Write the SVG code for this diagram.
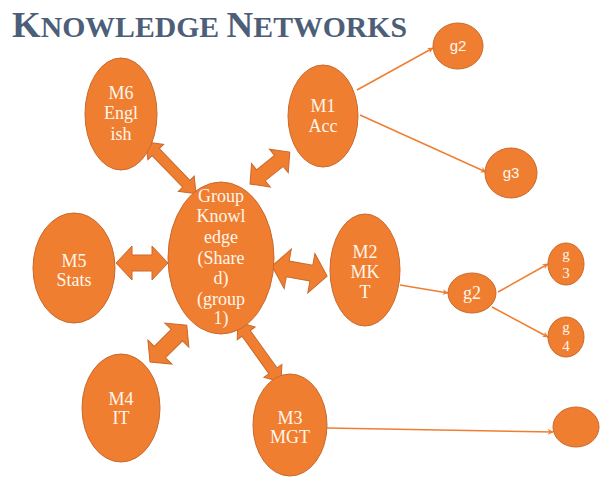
<svg xmlns="http://www.w3.org/2000/svg" width="601" height="477" viewBox="0 0 601 477">
<defs>
<style>
.n{fill:#F07E30;stroke:#C9692C;stroke-width:1}
.t{font-family:"Liberation Serif","Times New Roman",serif;font-size:18px;fill:#FFF6EC;text-anchor:middle}
.tm{font-family:"Liberation Serif","Times New Roman",serif;font-size:15px;fill:#FFF6EC;text-anchor:middle}
.ts{font-family:"Liberation Sans",Arial,sans-serif;font-size:15px;fill:#FFF6EC;text-anchor:middle}
.c{stroke:#F07E30;stroke-width:1.5;fill:none;marker-end:url(#ah)}
.b{fill:#F07E30;stroke:#C9692C;stroke-width:1}
.title{font-family:"Liberation Serif","Times New Roman",serif;font-weight:bold;fill:#4D5E78}
</style>
<marker id="ah" viewBox="0 0 10 10" refX="9" refY="5" markerWidth="6" markerHeight="6" orient="auto" markerUnits="userSpaceOnUse">
<path d="M0,0 L10,5 L0,10 L3,5 Z" fill="#F07E30"/>
</marker>
</defs>
<rect width="601" height="477" fill="#fff"/>
<text class="title" x="12" y="37" textLength="395" lengthAdjust="spacingAndGlyphs"><tspan font-size="36">K</tspan><tspan font-size="29">NOWLEDGE </tspan><tspan font-size="36">N</tspan><tspan font-size="29">ETWORKS</tspan></text>

<g id="connectors">
<line class="c" x1="357" y1="90" x2="433" y2="48"/>
<line class="c" x1="360" y1="115" x2="486" y2="172"/>
<line class="c" x1="400" y1="285" x2="448" y2="293"/>
<line class="c" x1="498" y1="292" x2="548" y2="264"/>
<line class="c" x1="492" y1="307" x2="548" y2="337"/>
<line class="c" x1="327" y1="428" x2="553" y2="432"/>
<path class="b" transform="translate(146,142) rotate(46)" d="M0,0 L14,-11 L14,-5 L58,-5 L58,-11 L72,0 L58,11 L58,5 L14,5 L14,11 Z"/>
<path class="b" transform="translate(250,184) rotate(-38.7)" d="M0,0 L14,-15 L14,-7 L37,-7 L37,-15 L51,0 L37,15 L37,7 L14,7 L14,15 Z"/>
<path class="b" transform="translate(116,263)" d="M0,0 L16,-17 L16,-8 L36,-8 L36,-17 L52,0 L36,17 L36,8 L16,8 L16,17 Z"/>
<path class="b" transform="translate(272,266) rotate(10.3)" d="M0,0 L16,-20 L16,-8 L40,-8 L40,-20 L56,0 L40,20 L40,8 L16,8 L16,20 Z"/>
<path class="b" transform="translate(150,362) rotate(-45)" d="M0,0 L14,-17 L14,-8 L38,-8 L38,-17 L52,0 L38,17 L38,8 L14,8 L14,17 Z"/>
<path class="b" transform="translate(238,322) rotate(54.4)" d="M0,0 L14,-11 L14,-5 L60,-5 L60,-11 L74,0 L60,11 L60,5 L14,5 L14,11 Z"/>
</g>

<g id="group">
<ellipse class="n" cx="221" cy="258" rx="53" ry="76"/>
<text class="t" x="221" y="202">Group</text>
<text class="t" x="221" y="222">Knowl</text>
<text class="t" x="221" y="243">edge</text>
<text class="t" x="221" y="264">(Share</text>
<text class="t" x="221" y="284">d)</text>
<text class="t" x="221" y="305">(group</text>
<text class="t" x="221" y="324">1)</text>
</g>
<g id="m6">
<ellipse class="n" cx="121" cy="114" rx="36" ry="56"/>
<text class="t" x="121" y="99">M6</text>
<text class="t" x="121" y="119">Engl</text>
<text class="t" x="121" y="140">ish</text>
</g>
<g id="m1">
<ellipse class="n" cx="323" cy="116" rx="35" ry="51"/>
<text class="t" x="323" y="112">M1</text>
<text class="t" x="323" y="132">Acc</text>
</g>
<g id="m5">
<ellipse class="n" cx="74" cy="268" rx="41" ry="55"/>
<text class="t" x="74" y="267">M5</text>
<text class="t" x="74" y="286">Stats</text>
</g>
<g id="m2">
<ellipse class="n" cx="365" cy="270" rx="35" ry="56"/>
<text class="t" x="365" y="258">M2</text>
<text class="t" x="365" y="278">MK</text>
<text class="t" x="365" y="298">T</text>
</g>
<g id="m4">
<ellipse class="n" cx="121" cy="408" rx="39" ry="54"/>
<text class="t" x="121" y="405">M4</text>
<text class="t" x="121" y="424">IT</text>
</g>
<g id="m3">
<ellipse class="n" cx="290" cy="425" rx="37" ry="51"/>
<text class="t" x="290" y="424">M3</text>
<text class="t" x="290" y="443">MGT</text>
</g>
<g id="g2top">
<ellipse class="n" cx="458" cy="46" rx="25" ry="23"/>
<text class="ts" x="458" y="51">g2</text>
</g>
<g id="g3top">
<ellipse class="n" cx="511" cy="173" rx="26" ry="25"/>
<text class="ts" x="511" y="178">g3</text>
</g>
<g id="g2mid">
<ellipse class="n" cx="472" cy="293" rx="24" ry="20"/>
<text class="t" x="472" y="299">g2</text>
</g>
<g id="g3mid">
<ellipse class="n" cx="566" cy="264" rx="18" ry="21"/>
<text class="tm" x="566" y="259">g</text>
<text class="tm" x="566" y="278">3</text>
</g>
<g id="g4">
<ellipse class="n" cx="566" cy="337" rx="18" ry="20"/>
<text class="tm" x="566" y="332">g</text>
<text class="tm" x="566" y="351">4</text>
</g>
<g id="end">
<ellipse class="n" cx="576" cy="427" rx="23" ry="20"/>
</g>
</svg>
